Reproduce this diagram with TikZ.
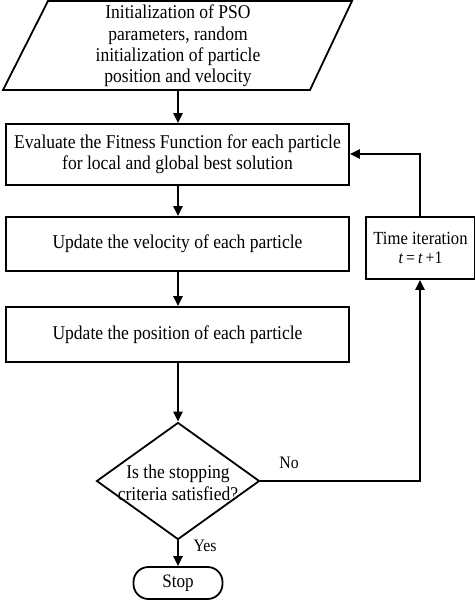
\documentclass[tikz,border=0pt]{standalone}
\usepackage{fontspec}
\setmainfont[FakeStretch=0.9]{Liberation Serif}
\usetikzlibrary{arrows.meta,shapes.geometric}
\begin{document}
\begin{tikzpicture}[x=1pt,y=-1pt,
  line width=1.8pt,
  txt/.style={font=\fontsize{19.5}{21.3}\selectfont, align=center, inner sep=0pt},
  box/.style={txt, draw, rectangle, minimum width=343pt},
  arr/.style={line width=2.2pt, -{Triangle[length=10pt,width=9pt]}},
  lbl/.style={font=\fontsize{17.5}{18}\selectfont, inner sep=0pt}]
\useasboundingbox (0,0) rectangle (474,602);
% parallelogram
\draw (48,1) -- (352,1) -- (310,90) -- (3,90) -- cycle;
\node[txt, minimum height=89pt] (init) at (178,46)
  {Initialization of PSO\\parameters, random\\initialization of particle\\position and velocity};
\node[box, minimum height=61pt] (eval) at (177.5,154.5)
  {Evaluate the Fitness Function for each particle\\for local and global best solution};
\node[box, minimum height=54pt] (vel) at (177.5,244) {Update the velocity of each particle};
\node[box, minimum height=55pt] (pos) at (177.5,334.5) {Update the position of each particle};
\node[txt, draw, diamond, minimum width=163pt, minimum height=117pt, aspect=1.39] (dec) at (178,481) {};
\node[txt] (dectext) at (178,483) {Is the stopping\\criteria satisfied?};
\node[txt, draw, rectangle, minimum width=109pt, minimum height=62pt] (time) at (420.5,248)
  {\fontsize{18.5}{20}\selectfont Time iteration\\[-3pt]\fontsize{17.5}{19}\selectfont\textit{t}\,=\,\textit{t}\,+1};
\node[lbl, font=\fontsize{19}{20}\selectfont, draw, rounded corners=15pt, minimum width=89pt, minimum height=32pt] (stop) at (178,583) {Stop};
\coordinate (c1) at (420,481);
\coordinate (c2) at (420,154);
\draw[arr] (init.south) -- (eval.north -| init.south);
\draw[arr] (eval.south -| 178,0) -- (vel.north -| 178,0);
\draw[arr] (vel.south -| 178,0) -- (pos.north -| 178,0);
\draw[arr] (pos.south -| 178,0) -- (dec.north);
\draw[arr] (dec.south) -- (stop.north);
\draw[arr] (dec.east) -- (c1) -- (time.south -| c1);
\draw[arr] (time.north -| c2) -- (c2) -- (eval.east |- c2);
\node[lbl] (no) at (289,463) {No};
\node[lbl] (yes) at (205,546) {Yes};
\end{tikzpicture}
\end{document}
